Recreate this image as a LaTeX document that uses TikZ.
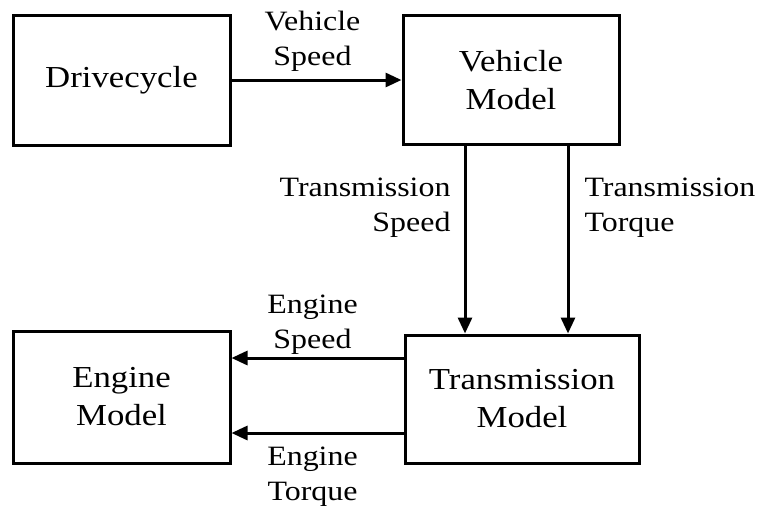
\documentclass[tikz,border=0pt]{standalone}
\usepackage{fontspec}
\setmainfont{Liberation Serif}[FakeStretch=1.14]
\usetikzlibrary{arrows.meta}

\begin{document}
\begin{tikzpicture}[x=1pt,y=-1pt,
    block/.style={draw,line width=3pt,inner sep=0pt,align=center,font=\fontsize{30.5}{38}\selectfont},
    lbl/.style={inner sep=0pt,align=center,font=\fontsize{28}{35}\selectfont},
    flow/.style={line width=3pt,-{Triangle[length=16pt,width=14pt]}}]

       \useasboundingbox (0,0) rectangle (758,507);

       \node[block,minimum width=217pt,minimum height=130pt] (drive) at (121.5,80) {Drivecycle};
       \node[block,minimum width=216pt,minimum height=129pt] (veh) at (511,80) {Vehicle\\Model};
       \node[block,minimum width=217pt,minimum height=132pt] (eng) at (121.5,397) {Engine\\Model};
       \node[block,minimum width=234pt,minimum height=128pt] (trans) at (522,399) {Transmission\\Model};

       \draw[flow] (drive) -- node[lbl,above=7pt,xshift=-4pt] {Vehicle\\Speed} (veh);

       \draw[flow] ([xshift=-46pt]veh.south) -- node[lbl,align=right,pos=0.33,left=13pt] {Transmission\\Speed} ([xshift=-46pt]veh.south |- trans.north);
       \draw[flow] ([xshift=57pt]veh.south) -- node[lbl,align=left,pos=0.33,right=15pt] {Transmission\\Torque} ([xshift=57pt]veh.south |- trans.north);

       \draw[flow] ([yshift=41pt]trans.west) -- node[lbl,above=2pt,xshift=-5pt] {Engine\\Speed} ([yshift=41pt]trans.west -| eng.east);
       \draw[flow] ([yshift=-34pt]trans.west) -- node[lbl,below=12pt,xshift=-5pt] {Engine\\Torque} ([yshift=-34pt]trans.west -| eng.east);
     \end{tikzpicture}
\end{document}
